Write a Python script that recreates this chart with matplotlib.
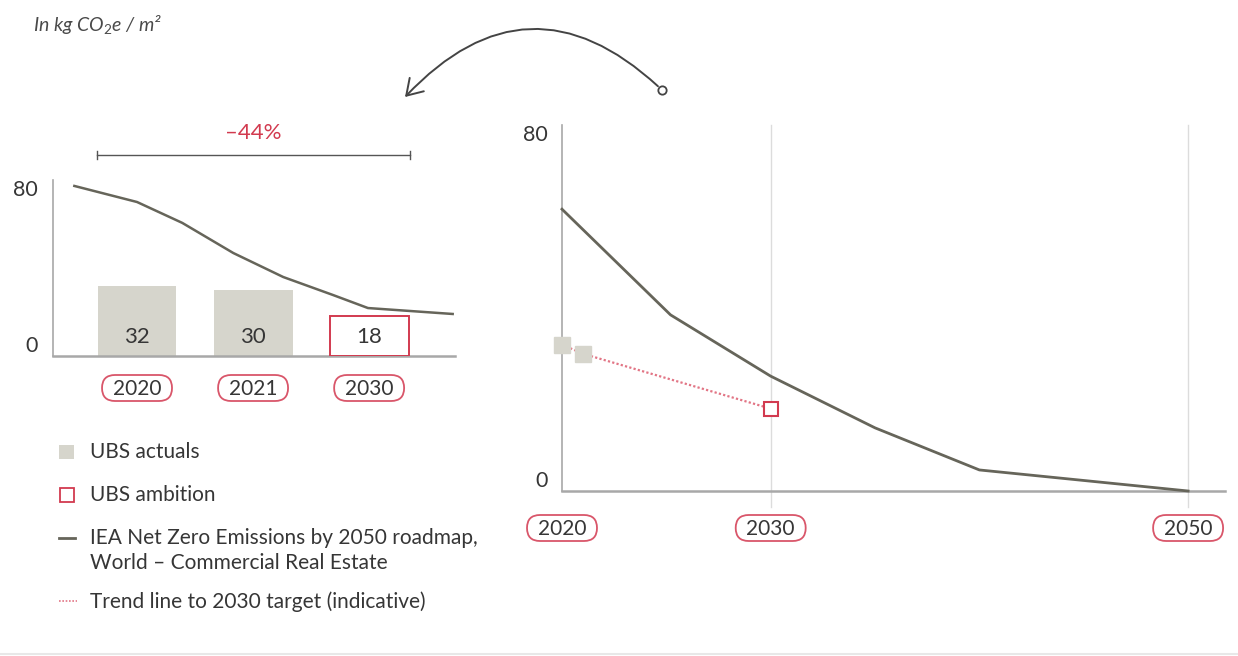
import matplotlib
matplotlib.use("Agg")
import matplotlib.pyplot as plt
from matplotlib.patches import FancyBboxPatch, Rectangle, FancyArrowPatch

# ---------------- data ----------------
left_years = ["2020", "2021", "2030"]
ubs_actuals = [32, 30]
ubs_ambition = 18
left_iea_x = [-0.54, 0.0, 0.39, 0.83, 1.26, 1.69, 1.99, 2.72]
left_iea_y = [77.3, 70.0, 60.5, 46.8, 35.9, 27.7, 21.8, 19.1]
reduction_label = "\u201344%"

iea_years = [2020, 2025.2, 2030, 2035, 2040, 2050]
iea_values = [61.6, 38.5, 25.1, 13.8, 4.6, 0]
ubs_years = [2020, 2021, 2030]
ubs_values = [32, 30, 18]
right_ticks = [2020, 2030, 2050]
y_ticks = [0, 80]

legend_labels = ["UBS actuals", "UBS ambition",
                 "IEA Net Zero Emissions by 2050 roadmap,",
                 "World \u2013 Commercial Real Estate",
                 "Trend line to 2030 target (indicative)"]

# ---------------- style ----------------
FONT = ["Lato", "DejaVu Sans"]
plt.rcParams["font.family"] = FONT
plt.rcParams["mathtext.fontset"] = "custom"
plt.rcParams["mathtext.rm"] = "Lato"
plt.rcParams["mathtext.it"] = "Lato:italic"

BAR = "#d6d5cc"
LINE = "#66655a"
RED = "#d23a4f"
PILL = "#d9566a"
TXT = "#363636"
AXC = "#a8a8a8"
GRID = "#dcdcdc"
TREND = "#e27585"

W, H = 1238, 656
fig = plt.figure(figsize=(W / 100, H / 100), dpi=100)
fig.patch.set_facecolor("white")


def pbox(x0, y0, x1, y1):
    return [x0 / W, 1 - y1 / H, (x1 - x0) / W, (y1 - y0) / H]


def style_axes(ax):
    for s in ["top", "right"]:
        ax.spines[s].set_visible(False)
    ax.spines["left"].set_color(AXC)
    ax.spines["left"].set_linewidth(1.2)
    ax.spines["bottom"].set_color(AXC)
    ax.spines["bottom"].set_linewidth(1.8)
    ax.set_xticks([])
    ax.set_yticks([])
    ax.patch.set_alpha(0)


# overlay in pixel coordinates for decorations
ov = fig.add_axes([0, 0, 1, 1], zorder=5)
ov.set_xlim(0, W)
ov.set_ylim(H, 0)
ov.axis("off")
ov.patch.set_alpha(0)


def disp_to_ov(xd, yd):
    return xd, H - yd


def pill(ax, x, label, dy_px, w=70, h=26):
    xd = ax.transData.transform((x, 0))[0]
    yd = ax.transAxes.transform((0, 0))[1] - dy_px
    cx, cy = disp_to_ov(xd, yd)
    ov.add_patch(FancyBboxPatch((cx - w / 2, cy - h / 2), w, h,
                                boxstyle=f"round,pad=0,rounding_size={h / 2}",
                                fc="white", ec=PILL, lw=1.3))
    ov.text(cx, cy + 1, label, ha="center", va="center", fontsize=15, color=TXT)


def ylabels(ax, off_px):
    for v in y_ticks:
        xd, yd = ax.transAxes.transform((0, v / 80))
        cx, cy = disp_to_ov(xd - off_px, yd)
        ov.text(cx, cy, str(v), ha="right", va="top" if v == 80 else "bottom",
                fontsize=15.5, color=TXT)


# ---------------- left chart ----------------
axL = fig.add_axes(pbox(53, 180, 455, 356))
style_axes(axL)
axL.set_xlim(-0.724, 2.74)
axL.set_ylim(0, 80)
xpos = list(range(len(left_years)))
axL.bar(xpos[:2], ubs_actuals, width=0.68, color=BAR, zorder=2)
axL.add_patch(Rectangle((xpos[2] - 0.34, 0), 0.68, ubs_ambition, fill=False,
                        ec=RED, lw=1.4, zorder=3))
for x, v in zip(xpos, ubs_actuals + [ubs_ambition]):
    axL.text(x, 8.6, str(v), ha="center", va="center", fontsize=16, color=TXT, zorder=4)
axL.plot(left_iea_x, left_iea_y, color=LINE, lw=1.8, zorder=3, clip_on=False)

# bracket with reduction
axL.plot([-0.345, 2.353], [91.4, 91.4], color="#555555", lw=1.0, clip_on=False)
for bx in [-0.345, 2.353]:
    axL.plot([bx, bx], [89.6, 93.2], color="#555555", lw=1.0, clip_on=False)
axL.text(1.0, 101.5, reduction_label, ha="center", va="center", fontsize=16,
         color=RED)

for x, lab in zip(xpos, left_years):
    pill(axL, x, lab, 32)
ylabels(axL, 15)

# ---------------- right chart ----------------
axR = fig.add_axes(pbox(562, 125, 1225, 491))
style_axes(axR)
axR.set_xlim(2020, 2020 + (1225 - 562) / 20.87)
axR.set_ylim(0, 80)
for yr in right_ticks[1:]:
    axR.axvline(yr, ymin=-16 / 366, ymax=1, color=GRID, lw=1.0, clip_on=False, zorder=1)
axR.plot(iea_years, iea_values, color=LINE, lw=2.0, zorder=3, clip_on=False)
axR.plot(ubs_years, ubs_values, color=TREND, lw=1.6, ls=(0, (1, 1)), zorder=3)
axR.plot(ubs_years[:2], ubs_values[:2], ls="none", marker="s", markersize=11,
         color=BAR, zorder=4, clip_on=False)
axR.plot(ubs_years[2:], ubs_values[2:], ls="none", marker="s", markersize=10,
         mfc="white", mec=RED, mew=1.5, zorder=4)
for yr in right_ticks:
    pill(axR, yr, str(yr), 37)
ylabels(axR, 14)

# ---------------- title, arrow, legend ----------------
ov.text(33, 25, r"In kg CO$_{2}$e / m²", ha="left", va="center", fontsize=14,
        style="italic", color="#4a4a4a")

arrow = FancyArrowPatch((662, 90), (405, 97), connectionstyle="arc3,rad=0.5",
                        arrowstyle="->,head_length=0.55,head_width=0.35",
                        mutation_scale=20, color="#444444", lw=1.4,
                        shrinkA=4, shrinkB=0)
ov.add_patch(arrow)
ov.plot([662], [90], marker="o", ms=6, mfc="white", mec="#444444", mew=1.3)

# legend
ov.add_patch(Rectangle((59, 445), 15, 14, fc=BAR, ec="none"))
ov.text(90, 452, legend_labels[0], ha="left", va="center", fontsize=15, color=TXT)
ov.add_patch(Rectangle((60, 488), 14, 14, fc="white", ec=RED, lw=1.3))
ov.text(90, 495, legend_labels[1], ha="left", va="center", fontsize=15, color=TXT)
ov.plot([59, 75], [538, 538], color=LINE, lw=2.0)
ov.text(90, 538, legend_labels[2], ha="left", va="center", fontsize=15, color=TXT)
ov.text(90, 563, legend_labels[3], ha="left", va="center", fontsize=15, color=TXT)
ov.plot([59, 77], [601, 601], color=TREND, lw=1.2, ls=(0, (1, 1)))
ov.text(90, 602, legend_labels[4], ha="left", va="center", fontsize=15, color=TXT)

ov.plot([0, W], [654, 654], color="#e8e8e8", lw=1.5)

fig.savefig("out.png", dpi=100, facecolor="white")
